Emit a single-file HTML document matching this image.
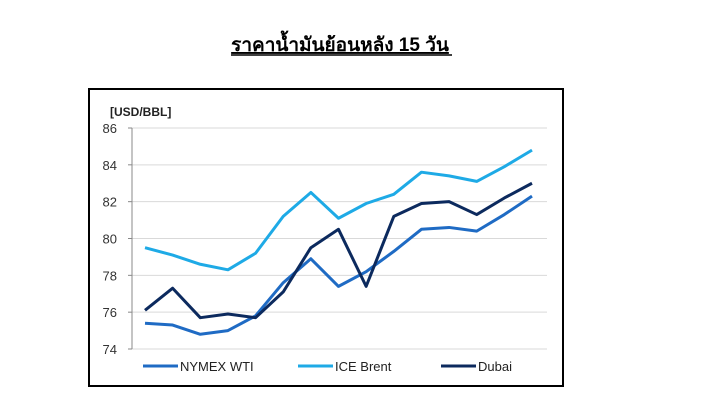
<!DOCTYPE html>
<html><head><meta charset="utf-8"><style>
body{margin:0;background:#fff;font-family:"Liberation Sans","Noto Sans CJK SC",sans-serif}
</style></head><body>
<svg width="712" height="406" xmlns="http://www.w3.org/2000/svg">
<text x="340" y="51" text-anchor="middle" font-size="19" font-weight="bold" text-decoration="underline" font-family="Liberation Sans, Noto Sans CJK SC, sans-serif">ราคาน้ำมันย้อนหลัง 15 วัน</text>
<line x1="231" y1="55" x2="452" y2="55" stroke="#000" stroke-width="1.5"/>
<rect x="89" y="89" width="474" height="297" fill="#fff" stroke="#000" stroke-width="2"/>
<text x="110" y="116" font-size="12" font-weight="bold" fill="#222">[USD/BBL]</text>
<g id="grid"></g><g id="series"></g><g id="legend"></g>
</svg>
<script>
const yTicks=[74,76,78,80,82,84,86];
const wti=[75.4,75.3,74.8,75.0,75.8,77.6,78.9,77.4,78.2,79.3,80.5,80.6,80.4,81.3,82.3];
const brent=[79.5,79.1,78.6,78.3,79.2,81.2,82.5,81.1,81.9,82.4,83.6,83.4,83.1,83.9,84.8];
const dubai=[76.1,77.3,75.7,75.9,75.7,77.1,79.5,80.5,77.4,81.2,81.9,82.0,81.3,82.2,83.0];
const seriesNames=["NYMEX WTI","ICE Brent","Dubai"];
const NS="http://www.w3.org/2000/svg";
const y=v=>349-(v-74)*(221/12);
const x=i=>145+i*(387/14);
const g=document.getElementById('grid');
function mk(tag,attrs,parent){const e=document.createElementNS(NS,tag);for(const k in attrs)e.setAttribute(k,attrs[k]);parent.appendChild(e);return e;}
yTicks.forEach(t=>{
 const l=mk('line',{x1:132,x2:547,y1:y(t),y2:y(t),stroke:'#d9d9d9'},g);
 
 
 mk('line',{x1:128,x2:132,y1:y(t),y2:y(t),stroke:'#888'},g);
 const tx=mk('text',{x:117,y:y(t)+5,'text-anchor':'end','font-size':13,fill:'#333'},g);
 tx.textContent=t;
 
 
});
mk('line',{x1:132,x2:132,y1:y(86),y2:y(74),stroke:'#888'},g);
const colors=['#1f6bc4','#1eaae6','#0c2a5e'];
const s=document.getElementById('series');
[wti,brent,dubai].forEach((d,k)=>{
 const p=mk('polyline',{points:d.map((v,i)=>x(i)+','+y(v)).join(' '),fill:'none',stroke:colors[k],'stroke-width':3,'stroke-linejoin':'round'},s);
 
 
});
const lg=document.getElementById('legend');
const lx=[143,298,441];
seriesNames.forEach((n,k)=>{
 const gg=mk('g',{},lg);
 
 
 mk('line',{x1:lx[k],x2:lx[k]+35,y1:366,y2:366,stroke:colors[k],'stroke-width':3},gg);
 const t=mk('text',{x:lx[k]+37,y:371,'font-size':13,fill:'#222'},gg);
 t.textContent=n;
});
</script>
</body></html>
